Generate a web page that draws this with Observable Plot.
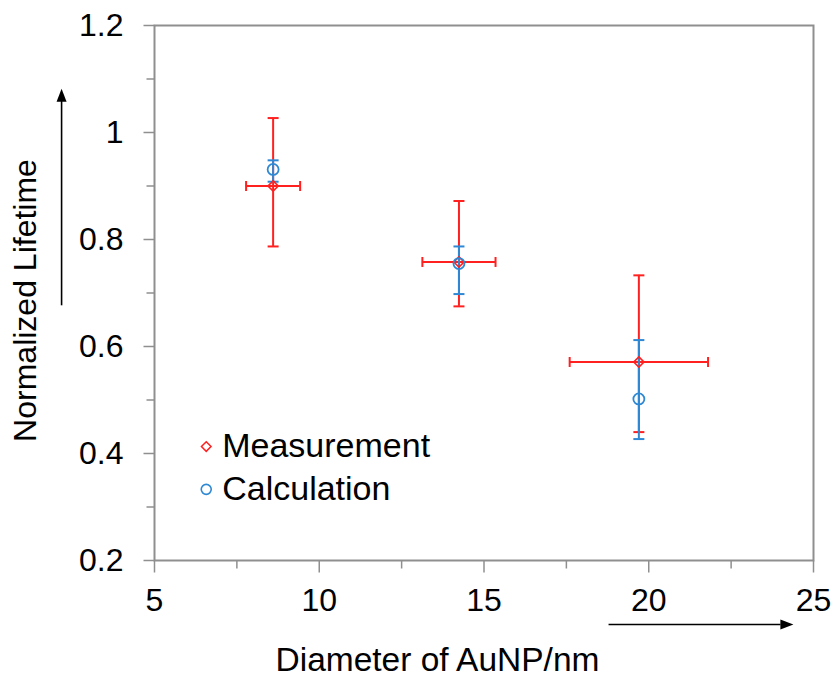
<!DOCTYPE html>
<html><head><meta charset="utf-8">
<script src="https://cdn.jsdelivr.net/npm/d3@7"></script>
<script src="https://cdn.jsdelivr.net/npm/@observablehq/plot@0.6"></script>
<style>html,body{margin:0;padding:0;background:#fff;}</style>
</head><body><div id="chart"></div>
<script>
// ---- data ----
const diameters      = [8.6, 14.24, 19.7];
const diameterErr    = [0.82, 1.11, 2.1];
const measured       = [0.9, 0.758, 0.571];
const measuredLow    = [0.787, 0.675, 0.44];
const measuredHigh   = [1.027, 0.872, 0.733];
const calculated     = [0.931, 0.755, 0.502];
const calculatedLow  = [0.908, 0.698, 0.427];
const calculatedHigh = [0.948, 0.787, 0.612];
const xTicks      = [5, 10, 15, 20, 25];
const xMinorTicks = [7.5, 12.5, 17.5, 22.5];
const yTicks      = [0.2, 0.4, 0.6, 0.8, 1.0, 1.2];
const yMinorTicks = [0.3, 0.5, 0.7, 0.9, 1.1];
const seriesNames = ["Measurement", "Calculation"];
const xTitle = "Diameter of AuNP/nm";
const yTitle = "Normalized Lifetime";

// ---- styles ----
const RED = "#ff2020", BLUE = "#2e88d4", GRAY = "#8f8f8f";
const FONT = '"Liberation Sans", Arial, Helvetica, sans-serif';

const meas = diameters.map((d, i) => ({x: d, xlo: d - diameterErr[i], xhi: d + diameterErr[i], y: measured[i], lo: measuredLow[i], hi: measuredHigh[i]}));
const calc = diameters.map((d, i) => ({x: d, y: calculated[i], lo: calculatedLow[i], hi: calculatedHigh[i]}));

const rad = size => Math.sqrt(size / Math.PI);
const hline = {draw(ctx, size) { const r = rad(size); ctx.moveTo(-r, 0); ctx.lineTo(r, 0); }};
const vline = {draw(ctx, size) { const r = rad(size); ctx.moveTo(0, -r); ctx.lineTo(0, r); }};
const tickDown = {draw(ctx, size) { const r = rad(size); ctx.moveTo(0, 0); ctx.lineTo(0, r); }};
const tickLeft = {draw(ctx, size) { const r = rad(size); ctx.moveTo(0, 0); ctx.lineTo(-r, 0); }};
const headRight = {draw(ctx) { ctx.moveTo(-13, -5); ctx.lineTo(0, 0); ctx.lineTo(-13, 5); ctx.closePath(); }};
const headUp = {draw(ctx) { ctx.moveTo(-5, 13); ctx.lineTo(0, 0); ctx.lineTo(5, 13); ctx.closePath(); }};

// annotation arrows (data units)
const xArrow = [{x1: 18.78, x2: 24.0, y: 0.0804, xt: 24.39}];
const yArrow = [{x: 2.18, y1: 0.677, y2: 1.06, yt: 1.082}];
const legendX = 6.57, legendY = [0.413, 0.333];

const capOpts = (color, r) => ({symbol: hline, r, stroke: color, strokeWidth: 2, fill: "none"});

const chart = Plot.plot({
  width: 835,
  height: 677,
  marginLeft: 154,
  marginRight: 22,
  marginTop: 25,
  marginBottom: 117,
  style: {fontFamily: FONT, fontSize: "32px", color: "#000", background: "#fff", overflow: "visible"},
  x: {type: "linear", domain: [5, 25], ticks: xTicks, tickSize: 0, tickPadding: 28, label: null},
  y: {type: "linear", domain: [0.2, 1.2], ticks: yTicks, tickSize: 0, tickPadding: 31, label: null,
      tickFormat: d => String(+d.toFixed(1))},
  marks: [
    Plot.frame({stroke: GRAY, strokeWidth: 2}),
    // tick marks
    Plot.dot(xMinorTicks, {x: d => d, frameAnchor: "bottom", symbol: tickDown, r: 8, stroke: GRAY, strokeWidth: 1.5, fill: "none"}),
    Plot.dot(xTicks, {x: d => d, frameAnchor: "bottom", symbol: tickDown, r: 12, stroke: GRAY, strokeWidth: 1.5, fill: "none"}),
    Plot.dot(yMinorTicks, {y: d => d, frameAnchor: "left", symbol: tickLeft, r: 8, stroke: GRAY, strokeWidth: 1.5, fill: "none"}),
    Plot.dot(yTicks, {y: d => d, frameAnchor: "left", symbol: tickLeft, r: 11, stroke: GRAY, strokeWidth: 1.5, fill: "none"}),

    // measurement error bars
    Plot.ruleY(meas, {y: "y", x1: "xlo", x2: "xhi", stroke: RED, strokeWidth: 2}),
    Plot.ruleX(meas, {x: "x", y1: "lo", y2: "hi", stroke: RED, strokeWidth: 2}),
    Plot.dot(meas, {x: "x", y: "lo", ...capOpts(RED, 5.5)}),
    Plot.dot(meas, {x: "x", y: "hi", ...capOpts(RED, 5.5)}),
    Plot.dot(meas, {x: "xlo", y: "y", symbol: vline, r: 5, stroke: RED, strokeWidth: 2, fill: "none"}),
    Plot.dot(meas, {x: "xhi", y: "y", symbol: vline, r: 5, stroke: RED, strokeWidth: 2, fill: "none"}),
    // calculation error bars
    Plot.ruleX(calc, {x: "x", y1: "lo", y2: "hi", stroke: BLUE, strokeWidth: 2}),
    Plot.dot(calc, {x: "x", y: "lo", ...capOpts(BLUE, 5.5)}),
    Plot.dot(calc, {x: "x", y: "hi", ...capOpts(BLUE, 5.5)}),
    // markers
    Plot.dot(meas, {x: "x", y: "y", symbol: "diamond2", r: 4.6, stroke: RED, strokeWidth: 1.6, fill: "none"}),
    Plot.dot(calc, {x: "x", y: "y", symbol: "circle", r: 5.5, stroke: BLUE, strokeWidth: 1.8, fill: "none"}),

    // legend
    Plot.dot([seriesNames[0]], {x: () => legendX, y: () => legendY[0], symbol: "diamond2", r: 4.3, stroke: RED, strokeWidth: 1.5, fill: "none"}),
    Plot.dot([seriesNames[1]], {x: () => legendX, y: () => legendY[1], symbol: "circle", r: 5, stroke: BLUE, strokeWidth: 1.6, fill: "none"}),
    Plot.text(seriesNames, {x: () => legendX, y: (d, i) => legendY[i], dx: 16, textAnchor: "start", lineAnchor: "middle", fontSize: 34, fill: "#000"}),

    // axis titles
    Plot.text([xTitle], {frameAnchor: "bottom-left", dx: 121, dy: 110, textAnchor: "start", lineAnchor: "bottom", fontSize: 33.5, fill: "#000"}),
    Plot.text([yTitle], {frameAnchor: "left", rotate: -90, dx: -129, dy: 7.5, textAnchor: "middle", lineAnchor: "middle", fontSize: 32, fill: "#000"}),

    // direction arrows
    Plot.link(xArrow, {x1: "x1", x2: "x2", y1: "y", y2: "y", stroke: "#000", strokeWidth: 1.6}),
    Plot.dot(xArrow, {x: "xt", y: "y", symbol: headRight, r: 5, fill: "#000", stroke: "none"}),
    Plot.link(yArrow, {x1: "x", x2: "x", y1: "y1", y2: "y2", stroke: "#000", strokeWidth: 1.6}),
    Plot.dot(yArrow, {x: "x", y: "yt", symbol: headUp, r: 5, fill: "#000", stroke: "none"})
  ]
});
document.getElementById("chart").appendChild(chart);
</script>
</body></html>
